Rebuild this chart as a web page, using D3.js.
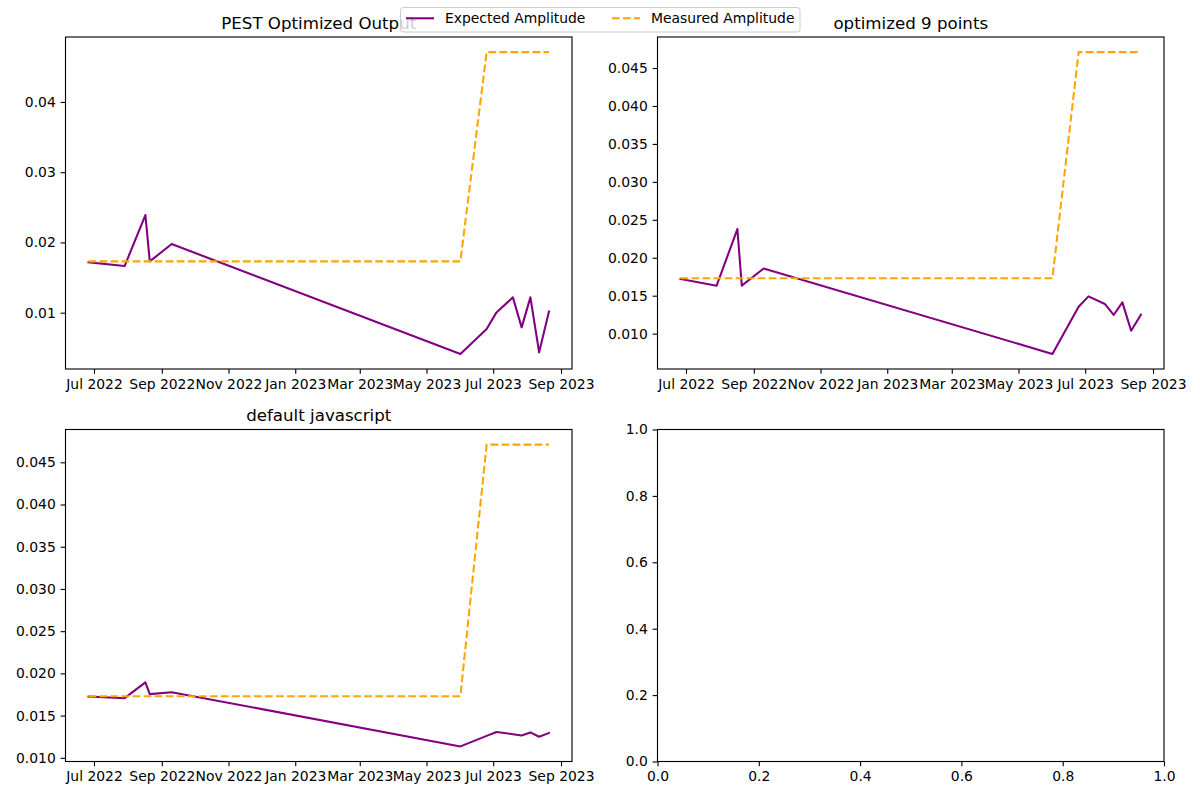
<!DOCTYPE html>
<html><head><meta charset="utf-8">
<script src="https://cdn.jsdelivr.net/npm/d3@7"></script>
<style>body{margin:0;background:#fff} text{font-family:"DejaVu Sans",sans-serif;fill:#000}</style>
</head><body><svg id="c" width="1200" height="800"></svg>
<script>
// ---- data ----
const dates = ["2022-06-26","2022-07-29","2022-08-17","2022-08-21","2022-09-10","2023-06-01","2023-06-25","2023-07-04","2023-07-19","2023-07-27","2023-08-04","2023-08-12","2023-08-21"];
const measured = [0.0173,0.0173,0.0173,0.0173,0.0173,0.0173,0.0471,0.0471,0.0471,0.0471,0.0471,0.0471,0.0471];
const expectedPest = [0.01716,0.01664,0.02390,0.01730,0.01977,0.00413,0.00768,0.01004,0.01218,0.00791,0.01218,0.00435,0.01018];
const expectedNine = [0.01720,0.01632,0.02378,0.01632,0.01859,0.00733,0.01355,0.01491,0.01391,0.01246,0.01412,0.01039,0.01250];
const expectedDefault = [0.01726,0.01706,0.01893,0.01754,0.01777,0.01135,0.01260,0.01306,0.01280,0.01265,0.01301,0.01250,0.01294];
const xTickDates = ["2022-07-01","2022-09-01","2022-11-01","2023-01-01","2023-03-01","2023-05-01","2023-07-01","2023-09-01"];
const yTicksPest = [0.01,0.02,0.03,0.04];
const yTicksOther = [0.010,0.015,0.020,0.025,0.030,0.035,0.040,0.045];
const emptyTicks = [0,0.2,0.4,0.6,0.8,1.0];
const titles = ["PEST Optimized Output","optimized 9 points","default javascript"];
const seriesNames = ["Expected Amplitude","Measured Amplitude"];

// ---- layout / style ----
const PURPLE = "#800080", ORANGE = "#FFA500";
const TICK = 4.86, PAD = 4.86, TICKFS = "13.9px", TITLEFS = "16.67px";
const W = 506.5, H = 332;
const parse = d3.timeParse("%Y-%m-%d");
const svg = d3.select("#c");

function styleAxis(g){
  g.select(".domain").remove();
  g.selectAll(".tick line").attr("stroke","#000").attr("stroke-width",1.11);
  g.selectAll(".tick text").attr("font-size",TICKFS).attr("font-family","DejaVu Sans").attr("fill","#000");
}

function panel(x0,y0,title,expected,yTicks,yFmt){
  const g = svg.append("g").attr("transform",`translate(${x0},${y0})`);
  const ds = dates.map(parse);
  const [d0,d1] = d3.extent(ds);
  const span = d1 - d0;
  const x = d3.scaleTime().domain([new Date(+d0 - 0.05*span), new Date(+d1 + 0.05*span)]).range([0,W]);
  const all = expected.concat(measured);
  const [v0,v1] = d3.extent(all);
  const vs = v1 - v0;
  const y = d3.scaleLinear().domain([v0 - 0.05*vs, v1 + 0.05*vs]).range([H,0]);

  const line = d3.line().x((d,i)=>x(ds[i])).y(d=>y(d));
  g.append("path").datum(expected).attr("d",line).attr("fill","none")
    .attr("stroke",PURPLE).attr("stroke-width",2.08).attr("stroke-linejoin","round").attr("stroke-linecap","square");
  g.append("path").datum(measured).attr("d",line).attr("fill","none")
    .attr("stroke",ORANGE).attr("stroke-width",2.08).attr("stroke-dasharray","7.7,3.33");

  const xa = g.append("g").attr("transform",`translate(0,${H})`)
    .call(d3.axisBottom(x).tickValues(xTickDates.map(parse)).tickFormat(d3.timeFormat("%b %Y")).tickSize(TICK).tickPadding(PAD).tickSizeOuter(0));
  styleAxis(xa);
  const ya = g.append("g")
    .call(d3.axisLeft(y).tickValues(yTicks).tickFormat(d3.format(yFmt)).tickSize(TICK).tickPadding(PAD).tickSizeOuter(0));
  styleAxis(ya);

  g.append("rect").attr("width",W).attr("height",H).attr("fill","none").attr("stroke","#000").attr("stroke-width",1.11);
  svg.append("text").attr("x",x0+W/2).attr("y",y0-8.3).attr("text-anchor","middle")
    .attr("font-size",TITLEFS).text(title);
}

panel(65.5,37,titles[0],expectedPest,yTicksPest,".2f");
panel(657.5,37,titles[1],expectedNine,yTicksOther,".3f");
panel(65.5,429.5,titles[2],expectedDefault,yTicksOther,".3f");

// empty panel
(function(){
  const g = svg.append("g").attr("transform",`translate(657.5,429.5)`);
  const x = d3.scaleLinear().domain([0,1]).range([0,W]);
  const y = d3.scaleLinear().domain([0,1]).range([H,0]);
  const xa = g.append("g").attr("transform",`translate(0,${H})`)
    .call(d3.axisBottom(x).tickValues(emptyTicks).tickFormat(d3.format(".1f")).tickSize(TICK).tickPadding(PAD).tickSizeOuter(0));
  styleAxis(xa);
  const ya = g.append("g")
    .call(d3.axisLeft(y).tickValues(emptyTicks).tickFormat(d3.format(".1f")).tickSize(TICK).tickPadding(PAD).tickSizeOuter(0));
  styleAxis(ya);
  g.append("rect").attr("width",W).attr("height",H).attr("fill","none").attr("stroke","#000").attr("stroke-width",1.11);
})();

// legend
const lg = svg.append("g");
lg.append("rect").attr("x",400.5).attr("y",7.5).attr("width",399.5).attr("height",24.5).attr("rx",2.8)
  .attr("fill","#fff").attr("fill-opacity",0.8).attr("stroke","#cccccc").attr("stroke-width",1);
const legItems = [{name:seriesNames[0],color:PURPLE,dash:null,x:406},{name:seriesNames[1],color:ORANGE,dash:"7.7,3.33",x:612}];
legItems.forEach(it=>{
  lg.append("line").attr("x1",it.x).attr("x2",it.x+28).attr("y1",18.3).attr("y2",18.3)
    .attr("stroke",it.color).attr("stroke-width",2.08).attr("stroke-dasharray",it.dash);
  lg.append("text").attr("x",it.x+39).attr("y",23.2).attr("font-size",TICKFS).attr("fill","#333").text(it.name);
});
</script></body></html>
